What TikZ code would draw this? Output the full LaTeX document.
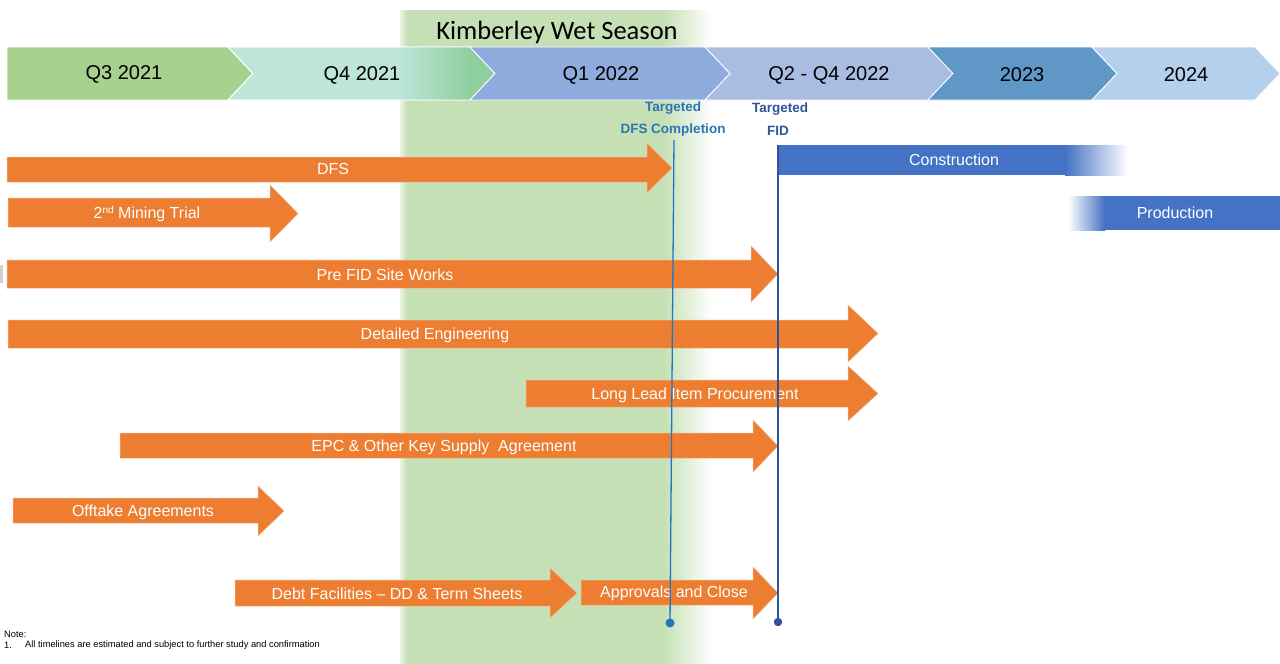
\documentclass[tikz,border=0pt]{standalone}
\usepackage{fontspec}
\setmainfont{Liberation Sans}
\newfontfamily\calfont{Carlito}
\definecolor{orng}{HTML}{ED7D31}
\definecolor{cqthree}{HTML}{A9D18E}
\definecolor{cqfour}{HTML}{BDE5D8}
\definecolor{cqfourg}{HTML}{8FCF9F}
\definecolor{cqone}{HTML}{8FAADC}
\definecolor{cqtwo}{HTML}{A9BDE3}
\definecolor{cyrthree}{HTML}{5F97C7}
\definecolor{cyrfour}{HTML}{B4D0EC}
\definecolor{band}{HTML}{C5E0B4}
\definecolor{constr}{HTML}{4472C4}
\definecolor{dfsblue}{HTML}{1F77C4}
\definecolor{dfslbl}{HTML}{2E75B6}
\definecolor{fidblue}{HTML}{2F5597}
\newcommand{\orangearrow}[7]{%
  \path[ofill] (#1,#4) -- (#2,#4) -- (#2,#6) -- (#3,{(#6+#7)/2}) -- (#2,#7) -- (#2,#5) -- (#1,#5) -- cycle;}
\newcommand{\chevpath}[2]{(#1,47) -- (#2,47) -- ({#2+25},73.5) -- (#2,100) -- (#1,100) -- ({#1+25},73.5) -- cycle}
\begin{document}
\begin{tikzpicture}[x=1pt,y=-1pt,
  hdr/.style={font=\fontsize{20}{24}\selectfont, text=black},
  bartext/.style={font=\fontsize{16}{19}\selectfont, text=white, inner sep=0pt},
  tgt/.style={font=\bfseries\fontsize{13.5}{16}\selectfont, inner sep=0pt},
  chev/.style={draw=white, line width=0.8pt},
  ofill/.style={fill=orng, draw=orng!55!white, line width=0.5pt},
  notetext/.style={anchor=west, font=\fontsize{9.3}{11}\selectfont, inner sep=0pt}
]
\useasboundingbox (0,0) rectangle (1280,664);
\fill[white] (0,0) rectangle (1280,664);
% Kimberley wet season band
\fill[band] (406,10) rectangle (664,664);
\shade[left color=band!35!white, right color=band] (400,10) rectangle (407,664);
\shade[left color=band, right color=white] (663,10) rectangle (712,664);
\node[font=\calfont\fontsize{26.5}{30}\selectfont, text=black] (kws) at (557,32) {Kimberley Wet Season};
% header chevrons
\path[chev, fill=cqthree] (7,47) -- (228,47) -- (253,73.5) -- (228,100) -- (7,100) -- cycle;
\path[chev, fill=cqfour] \chevpath{228}{470};
\begin{scope}
  \clip \chevpath{228}{470};
  \shade[left color=cqfour, right color=cqfourg] (400,47) rectangle (470,100);
  \fill[cqfourg] (469,47) rectangle (496,100);
\end{scope}
\path[chev, fill=none] \chevpath{228}{470};
\path[chev, fill=cqone] \chevpath{470}{705};
\path[chev, fill=cqtwo] \chevpath{705}{928};
\path[chev, fill=cyrthree] \chevpath{928}{1092};
\path[chev, fill=cyrfour] \chevpath{1092}{1255};
\node[hdr] (q3) at (124,74) {Q3 2021};
\node[hdr] (q4) at (362,75) {Q4 2021};
\node[hdr] (q1) at (601,75) {Q1 2022};
\node[hdr] (q2) at (829,75) {Q2 - Q4 2022};
\node[hdr] (y23) at (1022,75) {2023};
\node[hdr] (y24) at (1186,75) {2024};
% targeted labels
\node[tgt, text=dfslbl] (tdfs1) at (673,108) {Targeted};
\node[tgt, text=dfslbl] (tdfs2) at (673,130) {DFS Completion};
\node[tgt, text=fidblue] (tfid1) at (780,109) {Targeted};
\node[tgt, text=fidblue] (tfid2) at (778,131) {FID};
% construction and production
\fill[constr] (778,145) rectangle (1066,175);
\shade[left color=constr, right color=white] (1065,145) rectangle (1128,175);
\node[bartext] (constrT) at (954,160) {Construction};
\fill[constr] (1104,196) rectangle (1280,230);
\shade[left color=white, right color=constr] (1068,196) rectangle (1105,230);
\node[bartext] (prodT) at (1175,213) {Production};
% small grey mark
\fill[black!18] (0,265) rectangle (3,283);
% orange arrows
\orangearrow{7}{647}{672}{157}{182}{143}{193}
\node[bartext] (dfs) at (333,169) {DFS};
\orangearrow{8}{270}{298}{198}{227}{185}{242}
\node[bartext] (mining) at (147,214) {2{\fontsize{10}{10}\selectfont\raisebox{5pt}{nd}} Mining Trial};
\orangearrow{7}{751}{778}{260}{288}{246}{302}
\node[bartext] (prefid) at (385,275) {Pre FID Site Works};
\orangearrow{8}{848}{878}{320}{348}{305}{362}
\node[bartext] (deteng) at (435,335) {Detailed Engineering};
\orangearrow{526}{848}{878}{380}{407}{366}{421}
\node[bartext] (longlead) at (695,395) {Long Lead Item Procurement};
\orangearrow{120}{753}{778}{433}{458}{420}{472}
\node[bartext] (epc) at (444,447) {EPC \& Other Key Supply\ \ Agreement};
\orangearrow{13}{258}{284}{498}{523}{486}{536}
\node[bartext] (offtake) at (143,512) {Offtake Agreements};
\orangearrow{235}{550}{577}{580}{606}{568}{618}
\node[bartext] (debt) at (397,594) {Debt Facilities -- DD \& Term Sheets};
\orangearrow{581}{753}{778}{580}{605}{567}{619}
\node[bartext] (appr) at (674,593) {Approvals and Close};
% milestone lines
\coordinate (dfsTop) at (674,140);
\coordinate (dfsBot) at (670,623);
\draw[dfsblue, line width=1.3pt] (dfsTop) -- (dfsBot);
\fill[dfsblue] (dfsBot) circle (4.5);
\coordinate (fidTop) at (778,145);
\coordinate (fidBot) at (778,622);
\draw[fidblue, line width=1.3pt] (fidTop) -- (fidBot);
\fill[fidblue] (fidBot) circle (4.2);
% note
\node[notetext] (note) at (4,634) {Note:};
\node[notetext] (note1) at (4,645) {1.};
\node[notetext] (note2) at (25,645) {All timelines are estimated and subject to further study and confirmation};
\end{tikzpicture}
\end{document}
